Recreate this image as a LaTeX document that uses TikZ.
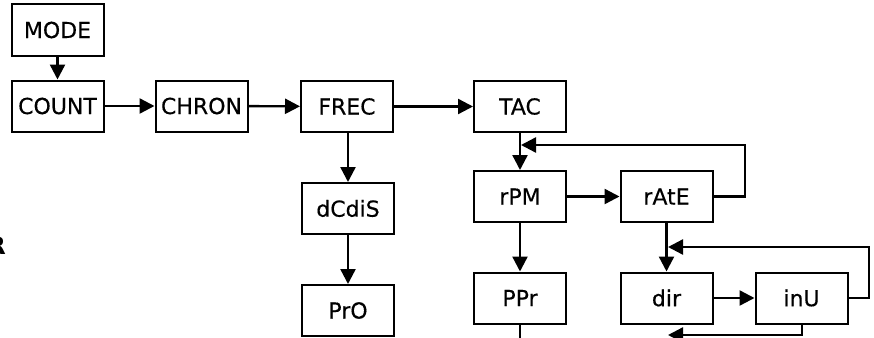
\documentclass[tikz,border=0pt]{standalone}
\usepackage{fontspec}
\setmainfont{DejaVu Sans}
\newfontfamily\boxfont[BoldFont={DejaVu Sans},BoldFeatures={FakeBold=0.4}]{DejaVu Sans}
\usetikzlibrary{arrows.meta}
\begin{document}
\begin{tikzpicture}[x=1pt,y=-1pt,
  box/.style={draw,line width=2pt,minimum width=92pt,minimum height=51pt,inner sep=0pt,font=\boxfont\fontsize{22}{26}\selectfont\bfseries},
  arr/.style={line width=2.4pt,-{Triangle[length=15pt,width=15pt]}},
  ln/.style={line width=2.4pt}]
\clip (0,0) rectangle (874,337);
\useasboundingbox (0,0) rectangle (874,337);
\node[box] (mode) at (57.5,30) {MODE};
\node[box] (count) at (57.5,106) {COUNT};
\node[box] (chron) at (201.5,106) {CHRON};
\node[box] (frec) at (347,106.5) {FREC};
\node[box] (tac) at (520,106.5) {TAC};
\node[box] (rpm) at (520,196.5) {rPM};
\node[box] (rate) at (666.5,196.5) {rAtE};
\node[box] (dcdis) at (348,208.5) {dCdiS};
\node[box] (pro) at (348,310.5) {PrO};
\node[box] (ppr) at (520,298) {PPr};
\node[box] (dir) at (666.5,298) {dir};
\node[box] (inu) at (801.5,298) {inU};
\node[anchor=east,inner sep=0pt,font=\fontsize{24}{28}\selectfont\rmfamily\bfseries] (r) at (6,246) {R};
\coordinate (c1) at (745,145);
\coordinate (m1) at (521,145);
\coordinate (c2) at (869,247);
\coordinate (m2) at (668,247);
\coordinate (c3) at (802,335);
\coordinate (m3) at (668,335);
\coordinate (c4) at (520,345);
\draw[arr] (mode) -- (count);
\draw[arr] (count) -- (chron);
\draw[arr] (chron) -- (frec);
\draw[arr] (frec) -- (tac);
\draw[arr] (frec.south -| dcdis.north) -- (dcdis);
\draw[arr] (dcdis) -- (pro);
\draw[arr] (tac) -- (rpm);
\draw[arr] (rpm) -- (rate);
\draw[arr] (rpm) -- (ppr);
\draw[arr] (rate) -- (dir);
\draw[arr] (dir) -- (inu);
\draw[arr] (rate.east) -| (c1) -- (m1);
\draw[arr] (inu.east) -| (c2) -- (m2);
\draw[arr] (inu.south -| c3) -- (c3) -- (m3);
\draw[ln] (ppr.south) -- (c4);
\end{tikzpicture}
\end{document}
